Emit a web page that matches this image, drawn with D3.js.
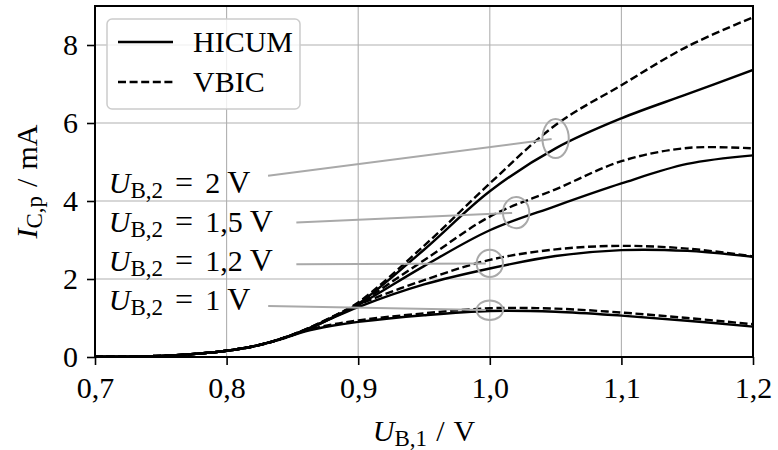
<!DOCTYPE html>
<html>
<head>
<meta charset="utf-8">
<script src="https://cdn.jsdelivr.net/npm/d3@7"></script>
<style>
    body { margin: 0; background: #fff; }
    svg { font-family: "Liberation Serif", "DejaVu Serif", serif; }
    .grid line { stroke: #b0b0b0; stroke-width: 1.1; }
    .tick text { font-size: 30px; fill: #000; }
    .tick line { stroke: #000; stroke-width: 1.6; }
    .curve { fill: none; stroke: #000; stroke-width: 2.4; }
    .dashed { stroke-dasharray: 8 3.6; }
    .annot { fill: none; stroke: #a9a9a9; stroke-width: 2; }
    .lbl { font-size: 30px; fill: #000; }
</style>
</head>
<body>
<script>
// U_B,1 sample points (V), shared by all curves
const ub1 = [0.70, 0.75, 0.78, 0.80, 0.82, 0.84, 0.86, 0.88, 0.90, 0.95, 1.00, 1.05, 1.10, 1.15, 1.20];

// I_C,p in mA
const hicum_1  = [0.005, 0.03, 0.09, 0.16, 0.27, 0.44, 0.66, 0.80, 0.90, 1.07, 1.18, 1.16, 1.06, 0.93, 0.78];
const vbic_1   = [0.005, 0.03, 0.09, 0.16, 0.27, 0.45, 0.68, 0.83, 0.94, 1.12, 1.25, 1.24, 1.14, 1.00, 0.84];
const hicum_12 = [0.005, 0.03, 0.09, 0.16, 0.27, 0.45, 0.69, 0.99, 1.28, 1.86, 2.27, 2.59, 2.74, 2.72, 2.57];
const vbic_12  = [0.005, 0.03, 0.09, 0.16, 0.27, 0.45, 0.70, 1.01, 1.34, 1.97, 2.49, 2.76, 2.85, 2.78, 2.58];
const hicum_15 = [0.005, 0.03, 0.09, 0.16, 0.27, 0.45, 0.69, 1.00, 1.33, 2.33, 3.25, 3.87, 4.45, 4.95, 5.17];
const vbic_15  = [0.005, 0.03, 0.09, 0.16, 0.27, 0.45, 0.70, 1.02, 1.37, 2.48, 3.60, 4.30, 5.02, 5.36, 5.35];
const hicum_2  = [0.005, 0.03, 0.09, 0.16, 0.27, 0.45, 0.70, 1.01, 1.36, 2.75, 4.25, 5.35, 6.12, 6.74, 7.36];
const vbic_2   = [0.005, 0.03, 0.09, 0.16, 0.27, 0.45, 0.71, 1.03, 1.40, 2.85, 4.45, 5.95, 6.97, 7.96, 8.71];

const hicum = [hicum_1, hicum_12, hicum_15, hicum_2];
const vbic = [vbic_1, vbic_12, vbic_15, vbic_2];

const xTicks = [0.7, 0.8, 0.9, 1.0, 1.1, 1.2];
const yTicks = [0, 2, 4, 6, 8];

const legendNames = ["HICUM", "VBIC"];

// U_B,2 labels: text anchor, line start, ellipse centre and ellipse height (data units)
const ub2Labels = ["2", "1,5", "1,2", "1"];
const labelY = [4.2, 3.2, 2.2, 1.2];
const lineFrom = [[0.8315, 4.65], [0.853, 3.45], [0.853, 2.38], [0.8316, 1.31]];
const ellipseAt = [[1.05, 5.6], [1.02, 3.7], [1.0, 2.4], [1.0, 1.2]];
const ellipseH = [1.0, 0.8, 0.7, 0.5];
const ellipseW = 0.02;

const fig = {width: 778, height: 450, margin: {top: 6, left: 95, right: 25, bottom: 93}};
const plot = {
    width: fig.width - fig.margin.left - fig.margin.right,
    height: fig.height - fig.margin.top - fig.margin.bottom
};

const svg = d3.select("body").append("svg")
    .attr("width", fig.width)
    .attr("height", fig.height);

const g = svg.append("g")
    .attr("transform", "translate(" + fig.margin.left + "," + fig.margin.top + ")");

const x = d3.scaleLinear().domain([0.7, 1.2]).range([0, plot.width]);
const y = d3.scaleLinear().domain([0, 9]).range([plot.height, 0]);

const comma = d => d3.format(".1f")(d).replace(".", ",");

// grid
g.append("g").attr("class", "grid")
    .selectAll("line").data(xTicks).enter().append("line")
    .attr("x1", d => x(d)).attr("x2", d => x(d))
    .attr("y1", 0).attr("y2", plot.height);
g.append("g").attr("class", "grid")
    .selectAll("line").data(yTicks).enter().append("line")
    .attr("x1", 0).attr("x2", plot.width)
    .attr("y1", d => y(d)).attr("y2", d => y(d));

// curves, clipped to the axes
svg.append("clipPath").attr("id", "clip")
    .append("rect").attr("width", plot.width).attr("height", plot.height);

const line = d3.line()
    .x((d, i) => x(ub1[i]))
    .y(d => y(d))
    .curve(d3.curveCatmullRom.alpha(0.5));

const curves = g.append("g").attr("clip-path", "url(#clip)");
curves.selectAll(".hicum").data(hicum).enter().append("path")
    .attr("class", "curve hicum")
    .attr("d", d => line(d));
curves.selectAll(".vbic").data(vbic).enter().append("path")
    .attr("class", "curve vbic dashed")
    .attr("d", d => line(d));

// axes
const xAxis = g.append("g")
    .attr("transform", "translate(0," + plot.height + ")")
    .call(d3.axisBottom(x).tickValues(xTicks).tickFormat(comma).tickSize(8).tickPadding(12));
const yAxis = g.append("g")
    .call(d3.axisLeft(y).tickValues(yTicks).tickFormat(d => d).tickSize(8).tickPadding(9));
[xAxis, yAxis].forEach(a => {
    // drop d3's sans-serif default so the serif font applies
    a.attr("font-family", null).attr("font-size", null);
    a.select(".domain").remove();
});

// frame
g.append("rect")
    .attr("width", plot.width).attr("height", plot.height)
    .attr("fill", "none").attr("stroke", "#000").attr("stroke-width", 2);

// annotations: grey line from the label to an ellipse on the curves
const ann = g.append("g");
ub2Labels.forEach((lab, i) => {
    const cx = x(ellipseAt[i][0]), cy = y(ellipseAt[i][1]);
    const sx = x(lineFrom[i][0]), sy = y(lineFrom[i][1]);
    const len = Math.hypot(cx - sx, cy - sy);
    const k = (len - 4) / len;
    ann.append("line").attr("class", "annot")
        .attr("x1", sx).attr("y1", sy)
        .attr("x2", sx + (cx - sx) * k).attr("y2", sy + (cy - sy) * k);
    ann.append("ellipse").attr("class", "annot")
        .attr("cx", cx).attr("cy", cy)
        .attr("rx", (x(ellipseW) - x(0)) / 2)
        .attr("ry", (y(0) - y(ellipseH[i])) / 2);

    const t = ann.append("text").attr("class", "lbl")
        .attr("x", x(0.7105)).attr("y", y(labelY[i]));
    t.append("tspan").attr("font-style", "italic").text("U");
    t.append("tspan").attr("font-size", "23px").attr("dy", 5).text("B,2");
    t.append("tspan").attr("dy", -5).attr("dx", 12).attr("font-size", "32px").text("=");
    t.append("tspan").attr("dx", 12).text(lab);
    t.append("tspan").attr("dx", 7).attr("font-size", "32px").text("V");
});

// legend
const leg = g.append("g").attr("transform", "translate(12,13)");
leg.append("rect")
    .attr("width", 193).attr("height", 90).attr("rx", 5)
    .attr("fill", "#fff").attr("fill-opacity", 0.8)
    .attr("stroke", "#cccccc").attr("stroke-width", 1.5);
legendNames.forEach((name, i) => {
    leg.append("line")
        .attr("class", "curve" + (i ? " dashed" : ""))
        .attr("x1", 11).attr("x2", 66)
        .attr("y1", 23 + 40 * i).attr("y2", 23 + 40 * i);
    leg.append("text").attr("class", "lbl")
        .attr("font-size", "29px")
        .attr("x", 86).attr("y", 33 + 40 * i)
        .text(name);
});

// axis labels
const xl = svg.append("text").attr("class", "lbl")
    .attr("text-anchor", "middle")
    .attr("x", fig.margin.left + plot.width / 2).attr("y", 441);
xl.append("tspan").attr("font-style", "italic").text("U");
xl.append("tspan").attr("font-size", "23px").attr("dy", 5).text("B,1");
xl.append("tspan").attr("dy", -5).attr("dx", 9).text("/");
xl.append("tspan").attr("dx", 9).text("V");

const yl = svg.append("text").attr("class", "lbl")
    .attr("text-anchor", "middle")
    .attr("transform", "translate(37," + (fig.margin.top + plot.height / 2) + ") rotate(-90)");
yl.append("tspan").attr("font-style", "italic").text("I");
yl.append("tspan").attr("font-size", "23px").attr("dy", 5).text("C,p");
yl.append("tspan").attr("dy", -5).attr("dx", 9).text("/");
yl.append("tspan").attr("dx", 9).text("mA");
</script>
</body>
</html>
